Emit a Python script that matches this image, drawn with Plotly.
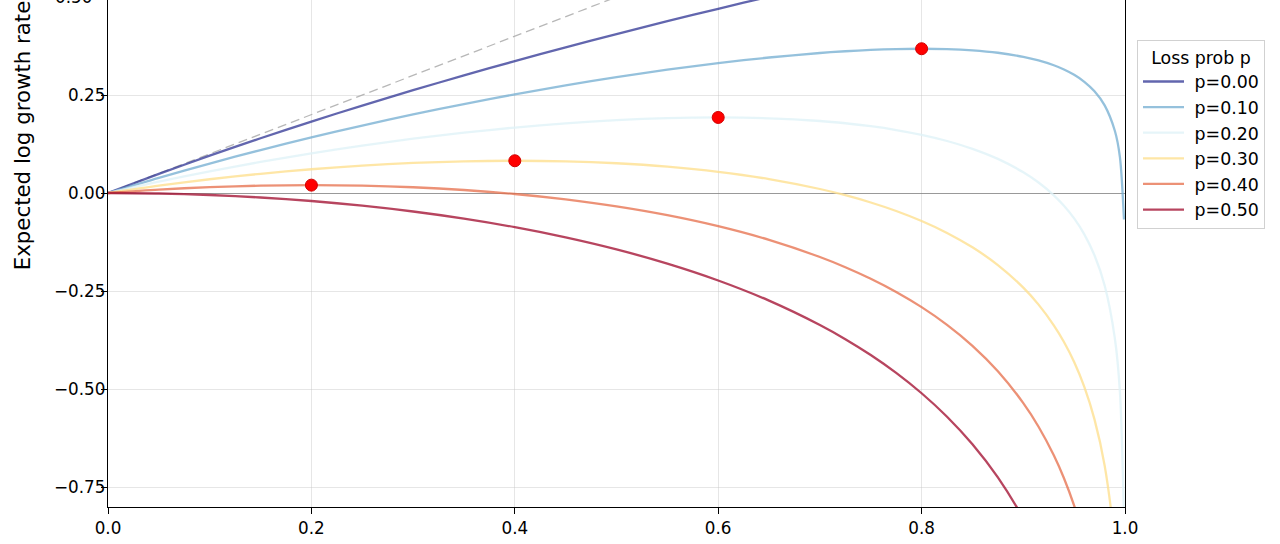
import plotly.graph_objects as go

# Bet fraction grid
f_vals = [0.0, 0.05, 0.10, 0.15, 0.20, 0.25, 0.30, 0.35, 0.40, 0.45, 0.50, 0.55, 0.60,
          0.65, 0.70, 0.725, 0.75, 0.775, 0.80, 0.825, 0.85, 0.875, 0.90, 0.915, 0.93,
          0.94, 0.95, 0.96, 0.97, 0.98, 0.99, 0.995, 0.999]

p_labels = ["p=0.00", "p=0.10", "p=0.20", "p=0.30", "p=0.40", "p=0.50"]

g_p00 = [0.0, 0.04879, 0.09531, 0.13976, 0.18232, 0.22314, 0.26236, 0.30010, 0.33647, 0.37156,
         0.40547, 0.43825, 0.47000, 0.50078, 0.53063, 0.54523, 0.55962, 0.57381, 0.58779,
         0.60158, 0.61519, 0.62861, 0.64185, 0.64972, 0.65752, 0.66269, 0.66783, 0.67294,
         0.67803, 0.68310, 0.68813, 0.69065, 0.69265]
g_p10 = [0.0, 0.03878, 0.07524, 0.10953, 0.14178, 0.17206, 0.20045, 0.22701, 0.25174, 0.27462,
         0.29560, 0.31458, 0.33137, 0.34572, 0.35717, 0.36161, 0.36503, 0.36726, 0.36807,
         0.36712, 0.36396, 0.35781, 0.34741, 0.33824, 0.32584, 0.31508, 0.30148, 0.28376,
         0.25957, 0.22359, 0.15880, 0.09176, -0.06739]
g_p20 = [0.0, 0.02877, 0.05518, 0.07931, 0.10123, 0.12097, 0.13856, 0.15392, 0.16701, 0.17768,
         0.18575, 0.19090, 0.19274, 0.19066, 0.18371, 0.17798, 0.17044, 0.16072, 0.14834,
         0.13267, 0.11273, 0.08700, 0.05296, 0.02676, -0.00583, -0.03253, -0.06489, -0.10543,
         -0.15889, -0.23592, -0.37053, -0.50714, -0.82743]
g_p30 = [0.0, 0.01876, 0.03511, 0.04907, 0.06068, 0.06990, 0.07665, 0.08084, 0.08228, 0.08074,
         0.07588, 0.06723, 0.05411, 0.03560, 0.01025, -0.00563, -0.02416, -0.04583, -0.07138,
         -0.10178, -0.13851, -0.18380, -0.24148, -0.28473, -0.33752, -0.38014, -0.43124,
         -0.49460, -0.57735, -0.69544, -0.89986, -1.10604, -1.58747]
g_p40 = [0.0, 0.00875, 0.01505, 0.01885, 0.02013, 0.01881, 0.01475, 0.00775, -0.00245, -0.01620,
         -0.03398, -0.05645, -0.08452, -0.11946, -0.16321, -0.18925, -0.21875, -0.25237,
         -0.29111, -0.33624, -0.38974, -0.45461, -0.53593, -0.59621, -0.66919, -0.72775,
         -0.79759, -0.88379, -0.99580, -1.15495, -1.42919, -1.70494, -2.34751]
g_p50 = [0.0, -0.00125, -0.00503, -0.01138, -0.02041, -0.03227, -0.04716, -0.06534, -0.08718,
         -0.11314, -0.14384, -0.18013, -0.22315, -0.27452, -0.33667, -0.37287, -0.41334,
         -0.45892, -0.51082, -0.57070, -0.64096, -0.72541, -0.83037, -0.90769, -1.00087,
         -1.07536, -1.16395, -1.27297, -1.41426, -1.61446, -1.95852, -2.30383, -3.10755]

g_series = [g_p00, g_p10, g_p20, g_p30, g_p40, g_p50]

# Small-f approximation reference line g = f
ref_f = [0.0, 1.0]
ref_g = [0.0, 1.0]

# Kelly optimum points f* = 1 - 2p
opt_f = [0.8, 0.6, 0.4, 0.2]
opt_g = [0.36807, 0.19274, 0.08228, 0.02013]

y_ticks = [-0.75, -0.50, -0.25, 0.00, 0.25]
y_tick_text = ["\u22120.75", "\u22120.50", "\u22120.25", "0.00", "0.25"]
x_ticks = [0.0, 0.2, 0.4, 0.6, 0.8, 1.0]
x_tick_text = ["0.0", "0.2", "0.4", "0.6", "0.8", "1.0"]

colors = ["rgba(49,54,149,0.76)", "rgba(116,173,209,0.76)", "rgba(224,243,248,0.80)",
          "rgba(254,224,144,0.80)", "rgba(230,110,75,0.76)", "rgba(160,10,45,0.76)"]

FONT = "DejaVu Sans"
TICK = 16.8
fig = go.Figure()

fig.add_trace(go.Scatter(x=ref_f, y=ref_g, mode="lines", showlegend=False,
                         line=dict(color="rgba(170,170,170,0.85)", width=1.3, dash="9px,5px"),
                         hoverinfo="skip"))

for lab, g, c in zip(p_labels, g_series, colors):
    fig.add_trace(go.Scatter(x=f_vals, y=g, mode="lines", name="\u00a0" + lab,
                             line=dict(color=c, width=2.3, shape="spline", smoothing=0.8)))

fig.add_trace(go.Scatter(x=opt_f, y=opt_g, mode="markers", showlegend=False,
                         marker=dict(color="red", size=12, line=dict(color="#d00000", width=1)),
                         cliponaxis=False))

y_lo, y_hi = -0.801, 0.4924

fig.update_layout(
    width=1280, height=544,
    margin=dict(l=108, r=155, t=0, b=37),
    plot_bgcolor="white", paper_bgcolor="white",
    font=dict(family=FONT, size=TICK, color="black"),
    xaxis=dict(range=[0, 1], tickvals=x_ticks, ticktext=x_tick_text,
               showgrid=True, gridcolor="rgba(200,200,200,0.45)", gridwidth=1,
               showline=True, linecolor="black", linewidth=1.3, mirror=True,
               ticks="outside", ticklen=6, tickwidth=1.2, tickcolor="black",
               zeroline=False, tickfont=dict(size=TICK)),
    yaxis=dict(range=[y_lo, y_hi], tickvals=y_ticks, ticktext=y_tick_text,
               showgrid=True, gridcolor="rgba(200,200,200,0.45)", gridwidth=1,
               showline=True, linecolor="black", linewidth=1.3, mirror=True,
               ticks="outside", ticklen=6, tickwidth=1.2, tickcolor="black",
               ticklabelstandoff=-8,
               zeroline=True, zerolinecolor="rgba(128,128,128,0.8)", zerolinewidth=1,
               tickfont=dict(size=TICK)),
    legend=dict(title=dict(text="Loss prob p", side="top center", font=dict(size=17.4)),
                x=1.0118, y=0.921, xanchor="left", yanchor="top",
                bordercolor="rgba(204,204,204,0.9)", borderwidth=1, bgcolor="white",
                font=dict(size=17.4), itemwidth=41),
)

fig.add_annotation(text="Expected log growth rate g(f)", textangle=-90,
                   xref="paper", yref="paper", x=-0.0846, y=0.463,
                   xanchor="center", yanchor="bottom", showarrow=False,
                   font=dict(size=21.3, family=FONT))
fig.add_annotation(text="0.50", xref="paper", yref="paper",
                   x=-0.0137, y=(0.5 - y_lo) / (y_hi - y_lo),
                   xanchor="right", yanchor="middle", showarrow=False,
                   font=dict(size=TICK, family=FONT))
fig.add_annotation(text="Fraction of wealth bet f", xref="paper", yref="paper",
                   x=0.5, y=-0.064, xanchor="center", yanchor="top", showarrow=False,
                   font=dict(size=20.5, family=FONT))

fig.write_html("out.html", config={"displayModeBar": False},
               post_script="document.body.style.margin='0px';document.body.style.overflow='hidden';")
